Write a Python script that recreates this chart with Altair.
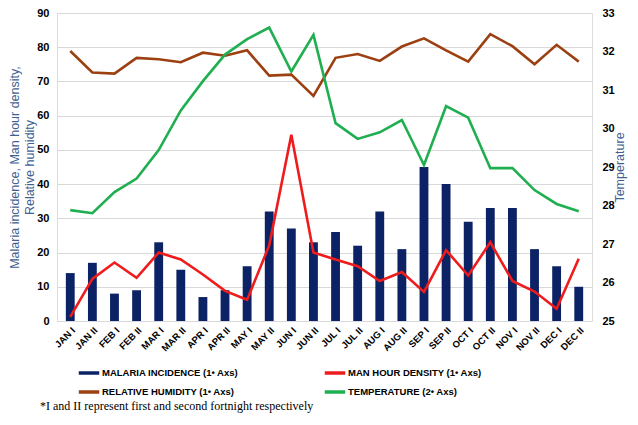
import altair as alt
import pandas as pd

periods = ["JAN I", "JAN II", "FEB I", "FEB II", "MAR I", "MAR II", "APR I", "APR II",
           "MAY I", "MAY II", "JUN I", "JUN II", "JUL I", "JUL II", "AUG I", "AUG II",
           "SEP I", "SEP II", "OCT I", "OCT II", "NOV I", "NOV II", "DEC I", "DEC II"]

malaria = [14, 17, 8, 9, 23, 15, 7, 9, 16, 32, 27, 23, 26, 22, 32, 21, 45, 40, 29, 33, 33, 21, 16, 10]
man_hour = [1.2, 12.3, 17.1, 12.6, 20.0, 18.0, 13.6, 8.8, 6.2, 22.1, 54.4, 20.0, 18.0, 16.0,
            11.7, 14.3, 8.5, 20.7, 13.3, 23.0, 11.7, 8.6, 3.6, 18.2]
humidity = [78.9, 72.6, 72.3, 76.9, 76.5, 75.6, 78.4, 77.5, 79.1, 71.7, 72.0, 65.8, 76.9, 78.0,
            76.0, 80.2, 82.6, 79.1, 75.8, 83.8, 80.3, 75.0, 80.7, 75.8]
temperature = [27.88, 27.8, 28.35, 28.7, 29.44, 30.47, 31.23, 31.92, 32.32, 32.62, 31.48, 32.43,
               30.14, 29.73, 29.9, 30.22, 29.05, 30.58, 30.28, 28.97, 28.97, 28.4, 28.04, 27.85]

series_names = ["MALARIA INCIDENCE (1• Axs)", "MAN HOUR DENSITY (1• Axs)",
                "RELATIVE HUMIDITY (1• Axs)", "TEMPERATURE (2• Axs)"]
series_colors = ["#0B2265", "#EE1C1C", "#9C4012", "#1FAF50"]
# legend fills column by column: col 1 = malaria, humidity; col 2 = man hour, temperature
legend_order = [series_names[0], series_names[2], series_names[1], series_names[3]]
legend_colors = [series_colors[0], series_colors[2], series_colors[1], series_colors[3]]
footnote = "*I and II represent first and second fortnight respectively"

rows = []
for name, vals in zip(series_names, [malaria, man_hour, humidity, temperature]):
    for p, v in zip(periods, vals):
        rows.append({"period": p, "series": name, "value": v})
df = pd.DataFrame(rows)

FONT = "Liberation Sans"
BLUE = "#3F5F91"

x_enc = alt.X("period:N", sort=periods,
              scale=alt.Scale(paddingInner=0.6, paddingOuter=0.4),
              axis=alt.Axis(title=None, labelAngle=-45, labelAlign="right", labelBaseline="top",
                            labelFont=FONT, labelFontWeight="bold", labelFontSize=9.5,
                            labelColor="black", ticks=False, domainColor="#D9D9D9",
                            labelPadding=4, grid=False))

color_enc = alt.Color("series:N",
                      scale=alt.Scale(domain=legend_order, range=legend_colors),
                      legend=alt.Legend(title=None, orient="none", legendX=20, legendY=348,
                                        columns=2, columnPadding=78, rowPadding=0,
                                        symbolType="stroke", symbolStrokeWidth=3.5,
                                        symbolSize=420, labelFont=FONT,
                                        labelFontWeight="bold", labelFontSize=9.5,
                                        labelColor="black", labelLimit=300, symbolOffset=0,
                                        labelOffset=1))

left_y = alt.Y("value:Q", scale=alt.Scale(domain=[0, 90]),
               axis=alt.Axis(orient="left", values=list(range(0, 91, 10)),
                             title=["Malaria incidence,  Man hour density,", "Relative humidity"],
                             titleColor=BLUE, titleFont=FONT, titleFontSize=12.5,
                             titleFontWeight="normal", titlePadding=0, titleLineHeight=15,
                             labelFont=FONT, labelFontWeight="bold",
                             labelFontSize=11, labelColor="black", labelPadding=8,
                             ticks=False, domain=False, grid=True, gridColor="#D9D9D9"))

bars = alt.Chart(df).transform_filter(
    alt.datum.series == series_names[0]
).mark_bar().encode(x=x_enc, y=left_y, color=color_enc)

lines_left = alt.Chart(df).transform_filter(
    (alt.datum.series == series_names[1]) | (alt.datum.series == series_names[2])
).mark_line(strokeWidth=2.6).encode(x=x_enc, y=left_y, color=color_enc, detail="series:N")

right_y = alt.Y("value:Q", scale=alt.Scale(domain=[25, 33]),
                axis=alt.Axis(orient="right", values=list(range(25, 34)),
                              title="Temperature", titleAngle=-90, titleColor=BLUE,
                              titleFont=FONT, titleFontSize=12.5,
                              titleFontWeight="normal", titlePadding=12,
                              labelFont=FONT, labelFontWeight="bold",
                              labelFontSize=11, labelColor="black", labelPadding=10,
                              ticks=False, domain=False, grid=False))

temp_line = alt.Chart(df).transform_filter(
    alt.datum.series == series_names[3]
).mark_line(strokeWidth=2.6).encode(x=x_enc, y=right_y, color=color_enc)

note = alt.Chart(pd.DataFrame({"t": [footnote]})).mark_text(
    align="left", baseline="alphabetic", font="Liberation Serif", fontSize=12, color="black"
).encode(x=alt.value(-17), y=alt.value(397), text="t:N")

left = alt.layer(bars, lines_left)
chart = alt.layer(left, temp_line, note).resolve_scale(y="independent").properties(
    width=535, height=308,
    autosize=alt.AutoSizeParams(type="none"),
    padding={"left": 49, "top": 5, "right": 38, "bottom": 96},
).configure_view(stroke=None).configure(background="white")

chart.save("out.html", embed_options={"renderer": "svg", "actions": False})
